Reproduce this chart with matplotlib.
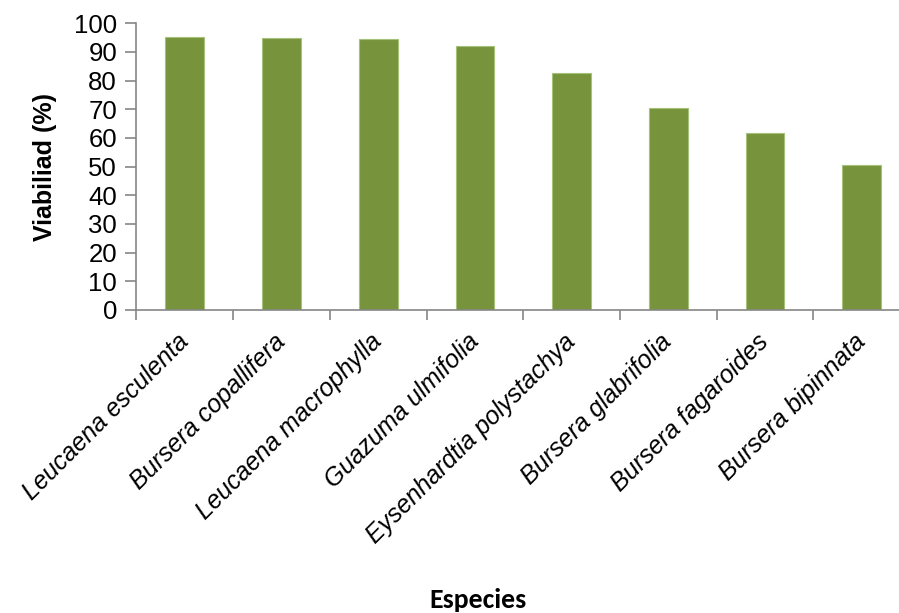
import matplotlib.pyplot as plt
import numpy as np

species = [
    "Leucaena esculenta",
    "Bursera copallifera",
    "Leucaena macrophylla",
    "Guazuma ulmifolia",
    "Eysenhardtia polystachya",
    "Bursera glabrifolia",
    "Bursera fagaroides",
    "Bursera bipinnata",
]
viability = [95.3, 94.8, 94.4, 92.0, 82.6, 70.3, 61.9, 50.6]
y_ticks = list(range(0, 101, 10))

SANS = ["Liberation Sans", "DejaVu Sans"]
plt.rcParams["font.family"] = SANS

fig = plt.figure(figsize=(8.99, 6.13), dpi=100)
ax = fig.add_axes([0.1518, 0.4943, 0.8604, 0.4677])

x = np.arange(len(species))
ax.bar(x, viability, width=0.4, color="#77933C", edgecolor="#A6C27A", linewidth=0.8, zorder=2)

ax.set_xlim(-0.5, len(species) - 0.5)
ax.set_ylim(0, 100)
ax.set_yticks(y_ticks)
ax.set_yticklabels([str(v) for v in y_ticks], family=SANS, fontsize=18.5)
ax.tick_params(axis="y", length=8, width=1.2, color="#868686", pad=6)

ax.set_xticks(x)
ax.set_xticklabels(species, rotation=45, ha="right", va="center",
                   rotation_mode="anchor", fontsize=18, style="italic", family=SANS)
ax.tick_params(axis="x", which="major", length=0, pad=20)
ax.set_xticks(np.arange(-0.5, len(species), 1.0), minor=True)
ax.tick_params(axis="x", which="minor", length=7, width=1.2, color="#868686")

for side in ("top", "right"):
    ax.spines[side].set_visible(False)
for side in ("left", "bottom"):
    ax.spines[side].set_color("#868686")
    ax.spines[side].set_linewidth(1.2)

ax.set_ylabel("Viabiliad (%)", fontsize=18, fontweight="bold", family=SANS, labelpad=12)
fig.text(0.532, 0.021, "Especies", fontsize=20, fontweight="bold",
         family=["Carlito", "Lato", "DejaVu Sans"], ha="center", va="center")

fig.savefig("out.png", dpi=100)
